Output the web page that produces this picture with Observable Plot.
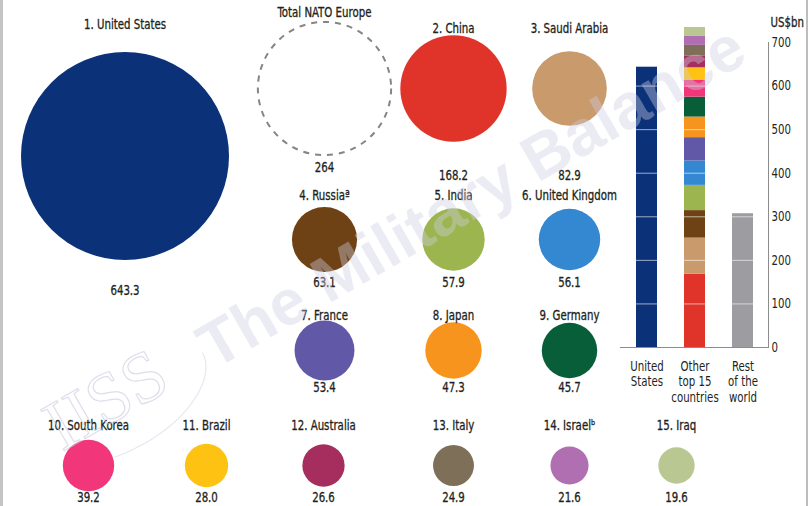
<!DOCTYPE html>
<html>
<head>
<meta charset="utf-8">
<script src="https://cdn.jsdelivr.net/npm/d3@7"></script>
<script src="https://cdn.jsdelivr.net/npm/@observablehq/plot@0.6"></script>
<style>
  html, body { margin: 0; padding: 0; background: #fff; }
  #wrap { position: relative; width: 810px; height: 506px; overflow: hidden; background: #fff; }
  #bubbles, #bars, #mark { position: absolute; top: 0; }
  #bubbles { left: 0; }
  #bars { left: 620px; }
  #mark { left: 0; pointer-events: none; }
  .edge { position: absolute; top: 0; height: 506px; background: #c4c4c4; }
</style>
</head>
<body>
<div id="wrap">
  <div id="bubbles"></div>
  <div id="bars"></div>
  <svg id="mark" width="810" height="506"></svg>
  <div class="edge" style="left:0;width:3px"></div>
  <div class="edge" style="left:806px;width:2px;background:#bdbdbd"></div>
</div>
<script>
// ---- data ----
const countries = ["United States","China","Saudi Arabia","Russia","India","United Kingdom","France","Japan","Germany","South Korea","Brazil","Australia","Italy","Israel","Iraq"];
const notes = ["","","","ª","","","","","","","","","","ᵇ",""];
const spending = [643.3,168.2,82.9,63.1,57.9,56.1,53.4,47.3,45.7,39.2,28.0,26.6,24.9,21.6,19.6];
const colors = ["#0b3179","#e0342b","#c99a6b","#6f4215","#9db54f","#3487d1","#6158a8","#f7941e","#075e39","#f1377a","#fec212","#a52e5f","#7e7058","#b06fb0","#b9c792"];
const natoLabel = "Total NATO Europe";
const natoEurope = 264;
const restOfWorld = 307;
const restColor = "#9c9ca1";
const barGroups = ["United States","Other top 15 countries","Rest of the world"];
const barGroupLabels = ["United\nStates","Other\ntop 15\ncountries","Rest\nof the\nworld"];
const yTicks = [0,100,200,300,400,500,600,700];
const unitLabel = "US$bn";
const watermark = "The Military Balance";

const FONT = "'Liberation Sans Narrow','DejaVu Sans Condensed','Arial Narrow',sans-serif";
const INK = "#231f20";
const FS = 13.5;

// ---- layout (positions only) ----
const colA = [324, 453, 569];
const colB = [88, 206, 323, 453, 569, 676];
const rows = [
  {cy: 88,  nameY: 28,  valueY: 175},
  {cy: 239, nameY: 195, valueY: 282},
  {cy: 350, nameY: 315, valueY: 387},
  {cy: 465, nameY: 425, valueY: 497}
];
function slot(i) {
  if (i === 0) return {cx: 124.5, cy: 155.5, nameY: 24, valueY: 290};
  if (i <= 2) return {cx: colA[i], ...rows[0]};
  if (i <= 8) { const r = rows[1 + Math.floor((i - 3) / 3)]; return {cx: colA[(i - 3) % 3], ...r}; }
  return {cx: colB[i - 9], ...rows[3]};
}

const bubbles = countries.map((c, i) => ({
  label: `${i + 1}. ${c}${notes[i]}`,
  value: spending[i],
  valueText: spending[i].toFixed(1),
  color: colors[i],
  ...slot(i)
}));
const nato = [{label: natoLabel, value: natoEurope, valueText: String(natoEurope), cx: colA[0], cy: 88, nameY: 12, valueY: 167}];

const textStyle = {fill: INK, fontSize: FS, stroke: INK, strokeWidth: 0.3};

const bubblePlot = Plot.plot({
  width: 810, height: 506, margin: 0,
  style: {fontFamily: FONT, fontSize: FS + "px", color: INK, background: "transparent"},
  x: {domain: [0, 810], range: [0, 810], axis: null},
  y: {domain: [0, 506], range: [0, 506], axis: null},
  r: {type: "sqrt", domain: [0, 643.3], range: [0, 104]},
  color: {type: "identity"},
  marks: [
    Plot.dot(bubbles, {x: "cx", y: "cy", r: "value", fill: "color", stroke: null}),
    Plot.dot(nato, {x: "cx", y: "cy", r: "value", fill: "none", stroke: "#858585", strokeWidth: 2, strokeDasharray: "6,6"}),
    Plot.text(bubbles.concat(nato), {x: "cx", y: "nameY", text: "label", ...textStyle}),
    Plot.text(bubbles.concat(nato), {x: "cx", y: "valueY", text: "valueText", ...textStyle})
  ]
});
document.getElementById("bubbles").appendChild(bubblePlot);

// ---- bars ----
const barData = [{group: barGroups[0], value: spending[0], color: colors[0]}]
  .concat(countries.slice(1).map((c, j) => ({group: barGroups[1], value: spending[j + 1], color: colors[j + 1]})))
  .concat([{group: barGroups[2], value: restOfWorld, color: restColor}]);
const labelOf = Object.fromEntries(barGroups.map((g, i) => [g, barGroupLabels[i]]));

const barPlot = Plot.plot({
  width: 190, height: 410,
  marginTop: 42, marginBottom: 63, marginLeft: 0, marginRight: 42,
  style: {fontFamily: FONT, fontSize: FS + "px", color: INK, background: "transparent", overflow: "visible"},
  x: {domain: barGroups, paddingInner: 0.571, paddingOuter: 0.3, axis: null},
  y: {domain: [0, 700], axis: null},
  color: {type: "identity"},
  marks: [
    Plot.barY(barData, {x: "group", y: "value", fill: "color"}),
    Plot.gridY({ticks: yTicks.filter(t => t > 0 && t < 700), stroke: "white", strokeOpacity: 0.6}),
    Plot.ruleY([0], {stroke: "#8c8c8c"}),
    Plot.frame({anchor: "right", stroke: "#8c8c8c"}),
    Plot.axisY({ticks: yTicks, anchor: "right", tickSize: 0, tickPadding: 3, label: null, ...textStyle}),
    Plot.axisX({anchor: "bottom", tickSize: 0, tickPadding: 12, label: null, lineHeight: 1.15, ...textStyle, tickFormat: d => labelOf[d]}),
    Plot.text([unitLabel], {frameAnchor: "top-right", dx: 2, dy: -25, textAnchor: "start", ...textStyle})
  ]
});
document.getElementById("bars").appendChild(barPlot);

// condense the labels horizontally (the source uses a condensed face)
function condense(svgEl, k) {
  svgEl.querySelectorAll("text").forEach(t => {
    const spans = t.querySelectorAll("tspan");
    const items = spans.length ? Array.from(spans) : [t];
    items.forEach(el => {
      const w = el.getComputedTextLength();
      if (w > 0) {
        el.setAttribute("textLength", (w * k).toFixed(2));
        el.setAttribute("lengthAdjust", "spacingAndGlyphs");
      }
    });
  });
}
condense(bubblePlot, 0.84);
condense(barPlot, 0.84);

// ---- watermark ----
const svg = d3.select("#mark");
svg.append("ellipse")
  .attr("cx", 120).attr("cy", 400).attr("rx", 95).attr("ry", 50)
  .attr("transform", "rotate(-30 120 400)")
  .attr("fill", "none")
  .attr("stroke", "rgba(200,200,222,0.45)")
  .attr("stroke-width", 1.2)
  .attr("stroke-dasharray", "150,400");
svg.append("text")
  .attr("x", 62).attr("y", 452)
  .attr("transform", "rotate(-30 62 452)")
  .attr("font-family", "'Liberation Serif','DejaVu Serif',serif")
  .attr("font-size", 72)
  .attr("fill", "none")
  .attr("stroke", "rgba(200,200,222,0.6)")
  .attr("stroke-width", 1.2)
  .text("IISS");
svg.append("text")
  .attr("x", 214).attr("y", 370)
  .attr("transform", "rotate(-30 214 370)")
  .attr("font-family", "'Liberation Sans','DejaVu Sans',sans-serif")
  .attr("font-weight", "bold")
  .attr("font-size", 64)
  .attr("fill", "rgba(205,205,228,0.4)")
  .text(watermark);
</script>
</body>
</html>
